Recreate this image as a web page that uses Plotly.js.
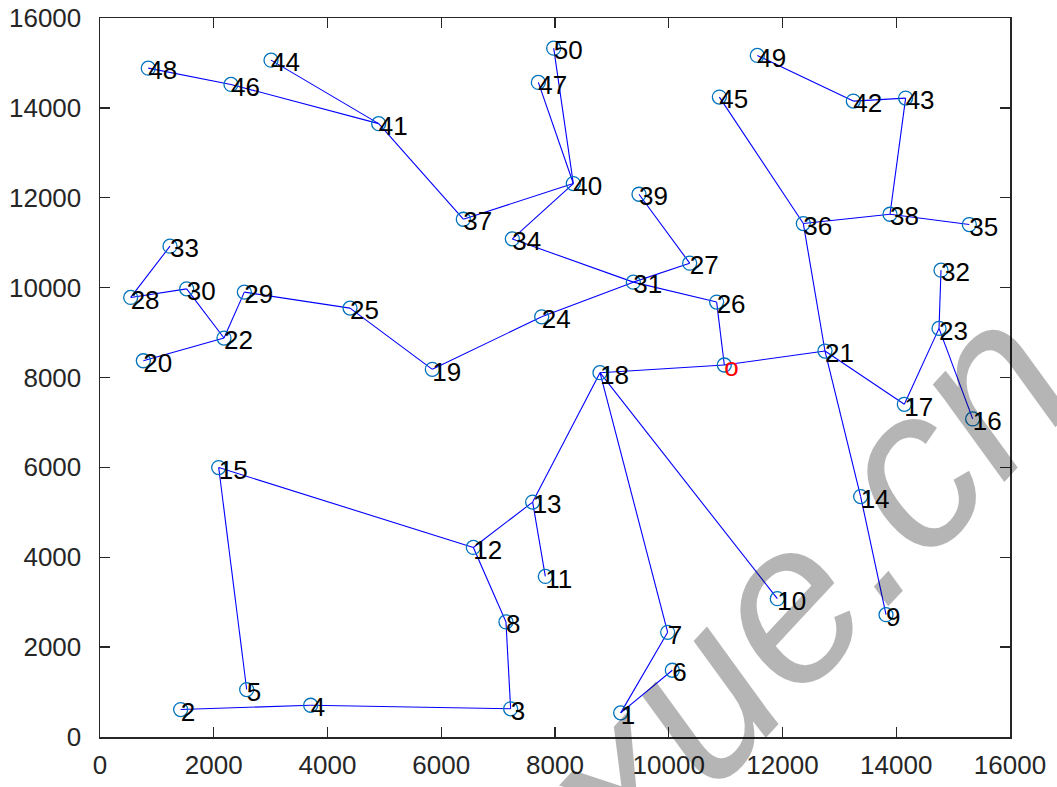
<!DOCTYPE html>
<html>
<head>
<meta charset="utf-8">
<script src="https://cdn.plot.ly/plotly-3.0.1.min.js"></script>
<style>html,body{margin:0;padding:0;background:#fff;}#chart{width:1057px;height:787px;}</style>
</head>
<body>
<div id="chart"></div>
<script>
// Node ids (0 = depot, drawn with red label "o")
const nodeIds = [0,1,2,3,4,5,6,7,8,9,10,11,12,13,14,15,16,17,18,19,20,21,22,23,24,25,26,27,28,29,30,31,32,33,34,35,36,37,38,39,40,41,42,43,44,45,46,47,48,49,50];
const nodeX = [10977,9155,1418,7220,3704,2579,10063,9981,7138,13820,11909,7830,6564,7607,13374,2087,15344,14142,8791,5843,762,12747,2180,14752,7766,4396,10842,10368,539,2538,1524,9377,14787,1231,7250,15285,12366,6388,13890,9477,8322,4900,13245,14165,3007,10890,2303,7707,849,11557,7977];
const nodeY = [8278,537,611,627,707,1056,1485,2330,2560,2722,3078,3574,4218,5227,5351,5996,7078,7404,8107,8182,8373,8589,8878,9093,9351,9544,9678,10544,9782,9900,9973,10122,10389,10922,11084,11404,11426,11522,11633,12078,12316,13649,14151,14218,15062,14240,14522,14567,14884,15167,15329];
const nodeLabels = ["o","1","2","3","4","5","6","7","8","9","10","11","12","13","14","15","16","17","18","19","20","21","22","23","24","25","26","27","28","29","30","31","32","33","34","35","36","37","38","39","40","41","42","43","44","45","46","47","48","49","50"];
// Tree edges (pairs of node ids)
const edgeFrom = [48,46,44,41,37,40,40,40,34,31,31,27,26,0,0,21,36,36,38,43,42,38,21,17,23,23,21,14,18,13,13,12,15,12,8,3,4,18,7,1,18,19,24,19,25,29,22,22,30,28];
const edgeTo   = [46,41,41,37,40,47,50,34,31,26,27,39,0,18,21,36,45,38,43,42,49,35,17,23,32,16,14,9,13,12,11,15,5,8,3,4,2,7,1,6,10,24,31,25,29,22,20,30,28,33];
const xTicks = [0,2000,4000,6000,8000,10000,12000,14000,16000];
const yTicks = [0,2000,4000,6000,8000,10000,12000,14000,16000];
const watermarkText = "xue.cn";

const ex = [], ey = [];
for (let i = 0; i < edgeFrom.length; i++) {
  const a = nodeIds.indexOf(edgeFrom[i]), b = nodeIds.indexOf(edgeTo[i]);
  ex.push(nodeX[a], nodeX[b], null);
  ey.push(nodeY[a], nodeY[b], null);
}
const labelDy = 105; // small downward nudge of labels, in data units
const labelColors = nodeLabels.map(l => l === "o" ? "#ff0000" : "#000000");

const FONT = "Liberation Sans, Arial, Helvetica, sans-serif";
const traces = [
  {x: ex, y: ey, mode: "lines", line: {color: "#0000ff", width: 1.1}, hoverinfo: "skip", showlegend: false},
  {x: nodeX, y: nodeY, mode: "markers", marker: {symbol: "circle-open", size: 14, color: "#0072BD", line: {width: 1.3, color: "#0072BD"}}, showlegend: false},
  {x: nodeX, y: nodeY.map(v => v - labelDy), mode: "text", text: nodeLabels, textposition: "middle right",
   textfont: {family: FONT, size: 26, color: labelColors}, showlegend: false, hoverinfo: "skip"}
];

const axisCommon = {
  showgrid: false, zeroline: false, showline: true, mirror: "ticks",
  linecolor: "#262626", linewidth: 1.5, ticks: "inside", ticklen: 10, tickwidth: 1.3, tickcolor: "#262626",
  tickfont: {family: FONT, size: 26, color: "#262626"}
};
const layout = {
  width: 1057, height: 787,
  margin: {l: 100, r: 47, t: 18, b: 50, pad: 0},
  paper_bgcolor: "#ffffff", plot_bgcolor: "#ffffff",
  xaxis: Object.assign({}, axisCommon, {range: [0, 16000], tickvals: xTicks, ticktext: xTicks.map(String), ticklabelstandoff: 4}),
  yaxis: Object.assign({}, axisCommon, {range: [0, 16000], tickvals: yTicks, ticktext: yTicks.map(String), ticklabelstandoff: 12}),
  showlegend: false,
  annotations: [{
    text: "<i>" + watermarkText + "</i>", xref: "paper", yref: "paper", x: 0.77, y: 0.21,
    xanchor: "center", yanchor: "middle", showarrow: false, textangle: -47,
    font: {family: FONT, size: 225, style: "italic", color: "rgba(0,0,0,0.29)"}
  }]
};
Plotly.newPlot("chart", traces, layout, {displayModeBar: false, staticPlot: true});
</script>
</body>
</html>
